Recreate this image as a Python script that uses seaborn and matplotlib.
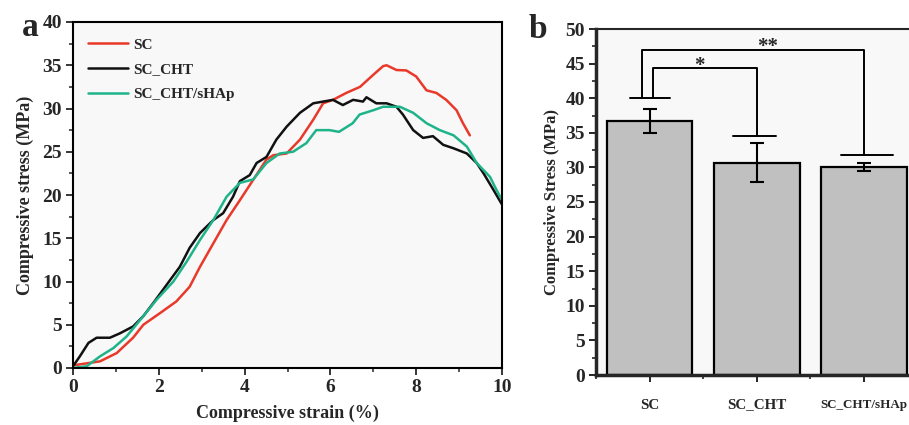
import numpy as np
import pandas as pd
import matplotlib
matplotlib.use("Agg")
import matplotlib.pyplot as plt
import seaborn as sns
from matplotlib.ticker import MultipleLocator, FixedLocator

# ---- data ----
sc_strain = [0, 0.63, 1.02, 1.4, 1.64, 2.03, 2.41, 2.72, 2.96, 3.27, 3.58, 3.89, 4.2, 4.51, 4.67,
             4.98, 5.29, 5.6, 5.83, 6.06, 6.37, 6.69, 7.0, 7.23, 7.31, 7.54, 7.77, 8.0, 8.24, 8.47,
             8.7, 8.94, 9.09, 9.25]
sc_stress = [0.3, 0.77, 1.73, 3.5, 5.0, 6.35, 7.7, 9.4, 11.7, 14.4, 17.1, 19.4, 21.75, 24.1, 24.6,
             24.8, 26.4, 28.7, 30.6, 31.0, 31.8, 32.5, 33.9, 34.9, 35.0, 34.45, 34.4, 33.7, 32.1, 31.8,
             31.0, 29.8, 28.3, 26.9]

cht_strain = [0, 0.16, 0.36, 0.55, 0.86, 1.09, 1.4, 1.64, 1.87, 2.18, 2.49, 2.72, 2.96, 3.27, 3.5,
              3.73, 3.89, 4.12, 4.28, 4.51, 4.74, 4.98, 5.29, 5.6, 5.83, 6.06, 6.29, 6.53, 6.76, 6.84,
              7.07, 7.31, 7.54, 7.69, 7.93, 8.16, 8.39, 8.63, 8.87, 9.18, 9.41, 9.57, 9.8, 10.0]
cht_stress = [0.2, 1.35, 2.9, 3.5, 3.5, 4.0, 4.8, 6.0, 7.5, 9.6, 11.7, 13.9, 15.6, 17.1, 17.9,
              19.8, 21.6, 22.3, 23.7, 24.4, 26.4, 27.9, 29.5, 30.6, 30.8, 31.0, 30.4, 31.0, 30.8, 31.3,
              30.6, 30.6, 30.2, 29.3, 27.5, 26.6, 26.8, 25.8, 25.4, 24.8, 23.7, 22.5, 20.6, 18.9]

hap_strain = [0, 0.32, 0.63, 0.94, 1.25, 1.64, 1.95, 2.34, 2.65, 2.96, 3.27, 3.58, 3.89, 4.2, 4.51,
              4.82, 5.13, 5.44, 5.67, 5.98, 6.2, 6.52, 6.68, 7.0, 7.23, 7.62, 7.93, 8.24, 8.55, 8.87,
              9.18, 9.41, 9.72, 9.87, 10.0]
hap_stress = [0, 0.2, 1.35, 2.3, 3.65, 6.0, 7.9, 10.0, 12.3, 14.8, 17.1, 19.8, 21.4, 21.8, 23.7,
              24.8, 25.0, 26.0, 27.5, 27.5, 27.3, 28.3, 29.3, 29.8, 30.2, 30.2, 29.5, 28.3, 27.5, 26.9,
              25.6, 23.7, 22.1, 20.6, 19.4]

series_names = ["SC", "SC_CHT", "SC_CHT/sHAp"]
series_colors = ["#e8392a", "#111111", "#1fb38a"]

bar_groups = ["SC", "SC_CHT", "SC_CHT/sHAp"]
bar_means = [36.7, 30.7, 30.1]
bar_err = [1.8, 2.8, 0.6]

# ---- figure ----
sns.set_style("ticks")
plt.rcParams["font.family"] = ["Liberation Serif", "DejaVu Serif"]
plt.rcParams["font.weight"] = "bold"
plt.rcParams["axes.labelweight"] = "bold"

fig = plt.figure(figsize=(9.09, 4.25), dpi=100)
face = "#f8f8f8"

# ----- panel a -----
ax1 = fig.add_axes([73/909, 57/425, 429/909, 346/425])
ax1.set_facecolor(face)
frames = []
for name, xs, ys in [("SC", sc_strain, sc_stress), ("SC_CHT", cht_strain, cht_stress),
                     ("SC_CHT/sHAp", hap_strain, hap_stress)]:
    frames.append(pd.DataFrame({"strain": xs, "stress": ys, "sample": name}))
df = pd.concat(frames, ignore_index=True)
sns.lineplot(data=df, x="strain", y="stress", hue="sample", hue_order=series_names,
             palette=series_colors, sort=False, estimator=None, linewidth=1.8, ax=ax1)
ax1.set_xlim(0, 10)
ax1.set_ylim(0, 40)
ax1.xaxis.set_major_locator(MultipleLocator(2))
ax1.xaxis.set_minor_locator(MultipleLocator(1))
ax1.yaxis.set_major_locator(MultipleLocator(5))
ax1.yaxis.set_minor_locator(MultipleLocator(2.5))
ax1.tick_params(which="major", direction="out", length=5, width=1.3, labelsize=14, pad=3)
ax1.tick_params(which="minor", direction="out", length=3, width=1.1)
for s in ax1.spines.values():
    s.set_visible(True)
    s.set_linewidth(1.5)
    s.set_color("black")
ax1.set_xlabel("Compressive strain (%)", fontsize=13, fontweight="bold", labelpad=6)
ax1.set_ylabel("Compressive stress (MPa)", fontsize=13, fontweight="bold", labelpad=6)
leg = ax1.legend(loc="upper left", frameon=False, fontsize=11, handlelength=2.6,
                 handletextpad=0.35, labelspacing=0.72, borderaxespad=0.3,
                 bbox_to_anchor=(0.01, 0.985))
for t in leg.get_texts():
    t.set_fontweight("bold")
for h in leg.get_lines():
    h.set_linewidth(1.8)
fig.text(22/909, 1 - 27/425, "a", fontsize=24, fontweight="bold", va="center", ha="left")

# ----- panel b -----
ax2 = fig.add_axes([596/909, 50/425, 321.5/909, 346/425])
ax2.set_facecolor(face)
bdf = pd.DataFrame({"group": bar_groups, "mean": bar_means})
sns.barplot(data=bdf, x="group", y="mean", order=bar_groups, color="#c0c0c0",
            edgecolor="black", linewidth=1.6, width=0.8, errorbar=None, saturation=1, ax=ax2)
ax2.errorbar(range(len(bar_groups)), bar_means, yerr=bar_err, fmt="none",
             ecolor="black", elinewidth=1.5, capsize=5, capthick=1.5)
ax2.set_xlim(-0.5, 2.5)
ax2.set_ylim(0, 50)
ax2.yaxis.set_major_locator(MultipleLocator(5))
ax2.yaxis.set_minor_locator(MultipleLocator(2.5))
ax2.xaxis.set_minor_locator(FixedLocator([-0.5, 0.5, 1.5]))
ax2.tick_params(which="major", direction="out", length=5, width=1.4, labelsize=14, pad=3)
ax2.tick_params(axis="x", which="major", labelsize=10.8, pad=12)
ax2.tick_params(which="minor", direction="out", length=3, width=1.2)
for lbl in ax2.get_xticklabels() + ax2.get_yticklabels():
    lbl.set_fontweight("bold")
ax2.get_xticklabels()[-1].set_fontsize(9.4)
for side in ["left", "bottom"]:
    ax2.spines[side].set_linewidth(2.5)
ax2.spines["top"].set_visible(True)
ax2.spines["top"].set_linewidth(1.5)
ax2.spines["right"].set_visible(False)
ax2.set_xlabel("")
ax2.set_ylabel("Compressive Stress (MPa)", fontsize=12, fontweight="bold", labelpad=4)

# significance brackets
lw = 1.4
ax2.plot([-0.18, 0.19], [40, 40], color="black", lw=lw)
ax2.plot([0.03, 0.03, 1.0, 1.0], [40, 44.3, 44.3, 34.5], color="black", lw=lw)
ax2.plot([0.78, 1.18], [34.5, 34.5], color="black", lw=lw)
ax2.text(0.46, 43.2, "*", ha="center", va="bottom", fontsize=15, fontweight="bold")
ax2.plot([-0.07, -0.07, 2.0, 2.0], [40, 47.0, 47.0, 31.8], color="black", lw=lw)
ax2.plot([1.79, 2.27], [31.8, 31.8], color="black", lw=lw)
ax2.text(1.1, 46.0, "**", ha="center", va="bottom", fontsize=15, fontweight="bold")

fig.text(529/909, 1 - 29/425, "b", fontsize=24, fontweight="bold", va="center", ha="left")

fig.savefig("out.png", dpi=100, facecolor="white")
